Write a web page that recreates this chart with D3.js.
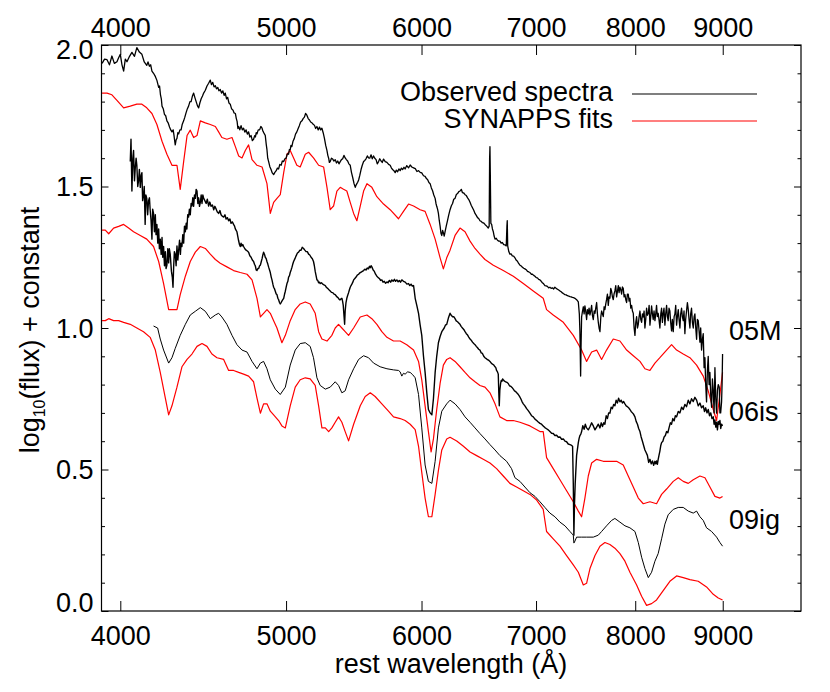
<!DOCTYPE html>
<html><head><meta charset="utf-8">
<script src="https://cdn.jsdelivr.net/npm/d3@7"></script>
<style>
body{margin:0;background:#fff}
text{font-family:"Liberation Sans",Arial,Helvetica,sans-serif;fill:#000}
</style>
</head><body>
<svg id="chart" width="830" height="692"></svg>
<script>
// ---------------- data (rest wavelength in Å, log10 flux + constant) ----------------
const xTickValues = [4000, 5000, 6000, 7000, 8000, 9000];
const yTickValues = [0.0, 0.5, 1.0, 1.5, 2.0];
const yMinorValues = [0.1,0.2,0.3,0.4,0.6,0.7,0.8,0.9,1.1,1.2,1.3,1.4,1.6,1.7,1.8,1.9];
const legendLabels = ["Observed spectra", "SYNAPPS fits"];
const snNames = ["05M", "06is", "09ig"];

const obs05M = [[3903,1.935],[3916,1.95],[3929,1.948],[3942,1.93],[3955,1.961],[3968,1.935],[3982,1.941],[3991,1.955],[4000,1.967],[4009,1.93],[4018,1.908],[4027,1.95],[4036,1.941],[4050,1.96],[4063,1.974],[4077,1.96],[4090,1.991],[4104,1.975],[4118,1.967],[4131,1.94],[4145,1.928],[4152,1.94],[4160,1.925],[4167,1.93],[4174,1.908],[4183,1.90],[4193,1.889],[4202,1.875],[4212,1.850],[4217,1.855],[4222,1.825],[4227,1.81],[4231,1.784],[4238,1.775],[4245,1.755],[4252,1.75],[4259,1.732],[4266,1.725],[4274,1.71],[4281,1.70],[4288,1.693],[4295,1.70],[4300,1.68],[4304,1.66],[4307,1.647],[4312,1.665],[4317,1.67],[4322,1.69],[4327,1.686],[4334,1.70],[4341,1.70],[4348,1.72],[4356,1.732],[4363,1.745],[4370,1.76],[4378,1.775],[4385,1.784],[4393,1.80],[4400,1.80],[4408,1.82],[4415,1.830],[4422,1.815],[4430,1.80],[4438,1.785],[4445,1.778],[4452,1.795],[4460,1.81],[4468,1.82],[4475,1.830],[4485,1.84],[4495,1.855],[4505,1.865],[4515,1.876],[4522,1.86],[4530,1.868],[4538,1.852],[4546,1.856],[4553,1.845],[4561,1.85],[4568,1.838],[4576,1.843],[4584,1.83],[4592,1.838],[4600,1.822],[4607,1.830],[4615,1.81],[4622,1.815],[4630,1.795],[4638,1.791],[4646,1.775],[4655,1.77],[4662,1.76],[4670,1.758],[4676,1.74],[4681,1.73],[4686,1.705],[4691,1.712],[4698,1.70],[4706,1.715],[4714,1.70],[4722,1.706],[4730,1.692],[4738,1.70],[4746,1.685],[4754,1.693],[4762,1.675],[4770,1.68],[4778,1.662],[4786,1.667],[4793,1.68],[4798,1.675],[4803,1.69],[4808,1.686],[4816,1.70],[4825,1.70],[4833,1.712],[4841,1.706],[4847,1.695],[4852,1.69],[4857,1.685],[4862,1.680],[4868,1.65],[4873,1.63],[4878,1.60],[4884,1.588],[4892,1.57],[4900,1.56],[4908,1.548],[4917,1.542],[4925,1.55],[4933,1.555],[4942,1.565],[4950,1.562],[4958,1.578],[4967,1.575],[4975,1.59],[4984,1.588],[4992,1.598],[5000,1.60],[5008,1.615],[5017,1.614],[5022,1.63],[5028,1.63],[5033,1.645],[5039,1.641],[5047,1.66],[5056,1.67],[5064,1.685],[5073,1.693],[5082,1.705],[5090,1.715],[5099,1.728],[5108,1.732],[5116,1.74],[5125,1.745],[5133,1.758],[5142,1.752],[5151,1.74],[5160,1.735],[5168,1.728],[5177,1.725],[5186,1.72],[5195,1.716],[5203,1.705],[5212,1.712],[5221,1.70],[5230,1.71],[5238,1.70],[5247,1.706],[5256,1.69],[5265,1.67],[5274,1.645],[5283,1.627],[5289,1.61],[5295,1.60],[5300,1.585],[5306,1.588],[5315,1.60],[5324,1.597],[5333,1.59],[5342,1.595],[5351,1.583],[5360,1.59],[5369,1.58],[5378,1.588],[5387,1.595],[5396,1.598],[5405,1.61],[5414,1.601],[5423,1.595],[5432,1.59],[5441,1.58],[5451,1.575],[5460,1.55],[5470,1.53],[5479,1.51],[5488,1.497],[5494,1.505],[5500,1.51],[5506,1.515],[5513,1.523],[5522,1.54],[5531,1.56],[5540,1.575],[5550,1.588],[5559,1.592],[5568,1.598],[5578,1.608],[5587,1.601],[5596,1.60],[5606,1.612],[5615,1.598],[5625,1.608],[5634,1.60],[5644,1.595],[5653,1.58],[5663,1.588],[5672,1.598],[5682,1.59],[5691,1.585],[5701,1.597],[5714,1.588],[5727,1.585],[5740,1.578],[5752,1.575],[5762,1.565],[5771,1.56],[5781,1.556],[5791,1.549],[5800,1.558],[5810,1.552],[5820,1.562],[5830,1.556],[5840,1.565],[5850,1.56],[5860,1.568],[5869,1.562],[5882,1.574],[5896,1.566],[5909,1.576],[5922,1.569],[5936,1.566],[5950,1.563],[5963,1.553],[5976,1.556],[5989,1.550],[6002,1.548],[6016,1.538],[6029,1.536],[6040,1.528],[6050,1.524],[6060,1.514],[6070,1.510],[6080,1.495],[6090,1.485],[6100,1.47],[6111,1.458],[6118,1.44],[6124,1.43],[6131,1.42],[6138,1.405],[6145,1.38],[6152,1.36],[6159,1.335],[6166,1.327],[6173,1.345],[6180,1.335],[6186,1.325],[6193,1.340],[6203,1.36],[6214,1.38],[6224,1.40],[6235,1.418],[6246,1.432],[6256,1.44],[6266,1.455],[6277,1.458],[6288,1.472],[6298,1.475],[6309,1.482],[6319,1.484],[6330,1.49],[6340,1.478],[6351,1.477],[6362,1.471],[6373,1.468],[6384,1.46],[6394,1.454],[6405,1.444],[6415,1.434],[6426,1.425],[6437,1.416],[6448,1.405],[6459,1.398],[6470,1.39],[6480,1.387],[6491,1.379],[6502,1.377],[6513,1.372],[6524,1.371],[6535,1.366],[6550,1.36],[6564,1.353],[6572,1.36],[6576,1.60],[6579,1.641],[6582,1.55],[6587,1.37],[6594,1.366],[6601,1.35],[6609,1.34],[6616,1.325],[6624,1.314],[6635,1.317],[6646,1.31],[6657,1.307],[6668,1.307],[6679,1.30],[6690,1.302],[6702,1.295],[6713,1.294],[6725,1.29],[6731,1.36],[6734,1.379],[6738,1.29],[6748,1.27],[6758,1.261],[6769,1.262],[6780,1.255],[6792,1.254],[6804,1.248],[6815,1.24],[6827,1.236],[6838,1.228],[6850,1.222],[6862,1.219],[6873,1.215],[6885,1.211],[6896,1.209],[6908,1.206],[6920,1.20],[6932,1.198],[6943,1.196],[6955,1.19],[6966,1.19],[6978,1.186],[6990,1.183],[7002,1.178],[7013,1.177],[7025,1.172],[7037,1.170],[7049,1.165],[7060,1.16],[7072,1.156],[7084,1.150],[7096,1.149],[7108,1.147],[7120,1.142],[7132,1.144],[7144,1.14],[7156,1.142],[7168,1.138],[7180,1.144],[7192,1.14],[7205,1.137],[7217,1.134],[7229,1.131],[7241,1.128],[7253,1.124],[7265,1.121],[7278,1.118],[7290,1.117],[7302,1.114],[7314,1.113],[7327,1.111],[7339,1.11],[7351,1.108],[7363,1.107],[7376,1.105],[7393,1.10],[7410,1.092],[7420,1.05],[7426,0.987],[7433,0.830],[7438,0.95],[7443,1.039],[7452,1.06],[7460,1.075],[7468,1.05],[7476,1.078],[7484,1.06],[7493,1.03],[7501,1.065],[7510,1.05],[7518,1.07],[7527,1.046],[7535,1.06],[7544,1.08],[7552,1.045],[7561,1.03],[7570,1.06],[7578,1.052],[7586,1.07],[7595,1.09],[7603,1.05],[7612,1.02],[7620,1.00],[7629,0.987],[7638,1.04],[7646,1.06],[7655,1.05],[7663,1.04],[7672,1.075],[7680,1.065],[7689,1.085],[7697,1.10],[7706,1.12],[7715,1.08],[7723,1.11],[7732,1.105],[7741,1.14],[7749,1.13],[7758,1.11],[7767,1.10],[7775,1.12],[7784,1.131],[7793,1.15],[7802,1.11],[7811,1.13],[7820,1.15],[7828,1.125],[7837,1.144],[7846,1.135],[7855,1.12],[7863,1.145],[7872,1.14],[7881,1.11],[7890,1.118],[7899,1.10],[7908,1.09],[7916,1.12],[7925,1.12],[7934,1.095],[7943,1.105],[7952,1.07],[7961,1.08],[7970,1.06],[7979,1.052],[7988,1.00],[7997,0.974],[8006,1.02],[8015,1.04],[8024,1.00],[8033,1.013],[8042,1.04],[8051,1.06],[8060,1.03],[8069,1.02],[8078,1.05],[8087,1.039],[8096,1.06],[8105,1.00],[8114,1.03],[8123,1.07],[8132,1.045],[8142,1.052],[8151,1.08],[8160,1.01],[8169,1.04],[8178,1.078],[8187,1.05],[8196,1.03],[8205,1.06],[8215,1.026],[8224,1.05],[8233,1.08],[8242,1.04],[8251,1.052],[8260,1.03],[8270,1.00],[8280,1.05],[8289,1.07],[8298,1.02],[8307,1.052],[8316,1.07],[8326,1.01],[8335,1.05],[8345,1.08],[8354,1.04],[8363,1.026],[8372,1.07],[8382,1.06],[8391,1.02],[8401,0.99],[8410,1.03],[8420,0.987],[8430,1.04],[8439,1.05],[8448,1.08],[8458,1.01],[8467,1.04],[8477,1.065],[8486,1.03],[8496,1.00],[8505,1.05],[8515,1.07],[8524,1.04],[8534,1.026],[8543,1.06],[8553,0.98],[8562,1.03],[8572,1.06],[8582,1.09],[8592,1.065],[8601,1.03],[8611,1.00],[8620,1.05],[8630,1.07],[8640,1.02],[8650,1.000],[8660,1.04],[8669,1.05],[8679,1.00],[8689,0.96],[8698,1.03],[8708,1.026],[8718,0.99],[8728,0.95],[8737,1.00],[8747,0.922],[8757,0.96],[8767,0.98],[8777,0.86],[8787,0.895],[8796,0.80],[8806,0.739],[8816,0.85],[8826,0.90],[8836,0.80],[8846,0.843],[8856,0.76],[8866,0.72],[8876,0.82],[8886,0.778],[8896,0.70],[8906,0.86],[8916,0.75],[8926,0.699],[8936,0.78],[8946,0.80],[8958,0.791],[8966,0.70],[8975,0.70],[8986,0.739],[8992,0.80],[8998,0.908]];

const fit05M = [[3903,1.830],[3929,1.830],[3955,1.824],[3982,1.804],[4018,1.778],[4054,1.784],[4090,1.791],[4118,1.791],[4145,1.778],[4174,1.758],[4202,1.719],[4231,1.660],[4259,1.614],[4288,1.575],[4317,1.575],[4336,1.490],[4356,1.588],[4376,1.680],[4395,1.699],[4415,1.673],[4435,1.680],[4455,1.732],[4485,1.725],[4515,1.719],[4546,1.712],[4566,1.693],[4586,1.673],[4617,1.667],[4649,1.673],[4670,1.641],[4691,1.608],[4712,1.601],[4733,1.627],[4754,1.647],[4776,1.595],[4808,1.575],[4841,1.569],[4873,1.510],[4895,1.405],[4917,1.444],[4939,1.458],[4961,1.471],[4984,1.549],[5006,1.614],[5028,1.627],[5051,1.601],[5073,1.575],[5096,1.569],[5131,1.614],[5154,1.621],[5188,1.601],[5224,1.575],[5259,1.569],[5283,1.497],[5306,1.418],[5330,1.431],[5354,1.484],[5378,1.497],[5402,1.490],[5426,1.484],[5451,1.444],[5476,1.405],[5500,1.379],[5525,1.431],[5550,1.484],[5575,1.510],[5612,1.497],[5650,1.464],[5701,1.438],[5752,1.418],[5817,1.386],[5856,1.412],[5896,1.438],[5936,1.431],[5989,1.418],[6029,1.412],[6070,1.366],[6111,1.314],[6152,1.248],[6179,1.209],[6207,1.248],[6235,1.275],[6277,1.327],[6319,1.353],[6362,1.340],[6405,1.307],[6448,1.281],[6491,1.261],[6535,1.242],[6609,1.222],[6698,1.203],[6789,1.183],[6881,1.157],[6974,1.131],[7068,1.105],[7100,1.065],[7164,1.046],[7262,1.020],[7360,0.974],[7443,0.922],[7493,0.882],[7544,0.915],[7595,0.922],[7646,0.889],[7697,0.922],[7767,0.961],[7837,0.954],[7908,0.922],[7979,0.902],[8051,0.882],[8105,0.856],[8160,0.850],[8215,0.876],[8270,0.895],[8345,0.922],[8401,0.941],[8458,0.922],[8534,0.908],[8611,0.895],[8689,0.869],[8767,0.830],[8826,0.778],[8886,0.712],[8926,0.673],[8966,0.765],[8998,0.843]];

const obs06is = [[4054,1.588],[4058,1.667],[4063,1.484],[4068,1.60],[4072,1.627],[4077,1.52],[4081,1.562],[4086,1.60],[4090,1.575],[4095,1.50],[4100,1.523],[4104,1.56],[4109,1.497],[4114,1.54],[4118,1.549],[4122,1.45],[4127,1.471],[4131,1.50],[4136,1.366],[4140,1.47],[4145,1.458],[4150,1.40],[4155,1.45],[4160,1.46],[4164,1.418],[4169,1.38],[4174,1.314],[4178,1.42],[4183,1.405],[4188,1.34],[4193,1.40],[4197,1.33],[4202,1.366],[4207,1.30],[4212,1.35],[4216,1.28],[4221,1.314],[4226,1.26],[4231,1.32],[4235,1.25],[4240,1.288],[4245,1.22],[4250,1.27],[4254,1.21],[4259,1.222],[4264,1.28],[4269,1.23],[4273,1.28],[4278,1.261],[4285,1.20],[4290,1.18],[4294,1.144],[4298,1.22],[4302,1.27],[4307,1.261],[4312,1.22],[4317,1.29],[4322,1.24],[4327,1.275],[4332,1.31],[4337,1.26],[4341,1.30],[4346,1.288],[4351,1.33],[4356,1.30],[4361,1.36],[4366,1.340],[4371,1.37],[4375,1.35],[4380,1.40],[4385,1.392],[4390,1.42],[4395,1.40],[4400,1.44],[4405,1.431],[4410,1.46],[4415,1.43],[4420,1.47],[4425,1.458],[4430,1.49],[4435,1.484],[4440,1.44],[4445,1.46],[4450,1.43],[4455,1.444],[4460,1.47],[4465,1.44],[4470,1.47],[4475,1.458],[4482,1.45],[4490,1.44],[4497,1.455],[4505,1.431],[4512,1.445],[4520,1.43],[4528,1.435],[4536,1.418],[4543,1.43],[4551,1.42],[4558,1.41],[4566,1.405],[4574,1.415],[4581,1.40],[4589,1.395],[4597,1.392],[4605,1.40],[4612,1.385],[4620,1.39],[4628,1.379],[4636,1.385],[4643,1.37],[4651,1.375],[4659,1.366],[4665,1.36],[4670,1.35],[4675,1.345],[4680,1.340],[4685,1.325],[4690,1.31],[4696,1.295],[4701,1.288],[4706,1.30],[4712,1.29],[4717,1.295],[4722,1.288],[4730,1.28],[4738,1.275],[4746,1.272],[4754,1.268],[4762,1.255],[4770,1.25],[4778,1.24],[4786,1.235],[4792,1.225],[4797,1.22],[4803,1.205],[4808,1.203],[4814,1.21],[4819,1.21],[4825,1.22],[4830,1.222],[4836,1.235],[4841,1.245],[4846,1.258],[4851,1.268],[4857,1.26],[4862,1.25],[4868,1.245],[4873,1.235],[4879,1.225],[4884,1.215],[4890,1.205],[4895,1.196],[4901,1.18],[4906,1.17],[4912,1.155],[4917,1.144],[4923,1.138],[4928,1.13],[4934,1.12],[4939,1.118],[4945,1.105],[4950,1.10],[4956,1.09],[4961,1.085],[4967,1.09],[4972,1.095],[4978,1.10],[4984,1.105],[4990,1.12],[4995,1.13],[5001,1.145],[5006,1.157],[5012,1.165],[5017,1.18],[5023,1.185],[5028,1.196],[5034,1.205],[5040,1.215],[5045,1.225],[5051,1.235],[5060,1.245],[5068,1.255],[5077,1.265],[5085,1.268],[5094,1.275],[5102,1.275],[5110,1.285],[5119,1.281],[5128,1.275],[5136,1.27],[5145,1.27],[5154,1.261],[5162,1.258],[5171,1.25],[5180,1.245],[5188,1.235],[5194,1.22],[5200,1.20],[5206,1.185],[5212,1.170],[5218,1.168],[5224,1.16],[5230,1.162],[5235,1.157],[5244,1.16],[5253,1.155],[5262,1.152],[5271,1.150],[5280,1.143],[5288,1.14],[5297,1.135],[5306,1.131],[5315,1.126],[5324,1.125],[5333,1.12],[5342,1.118],[5348,1.114],[5354,1.11],[5360,1.108],[5366,1.105],[5372,1.10],[5378,1.10],[5384,1.103],[5390,1.105],[5395,1.095],[5400,1.08],[5406,1.04],[5410,1.013],[5414,1.06],[5420,1.09],[5426,1.105],[5432,1.115],[5439,1.125],[5445,1.135],[5451,1.144],[5457,1.15],[5463,1.155],[5470,1.162],[5476,1.170],[5485,1.175],[5494,1.18],[5503,1.187],[5513,1.190],[5522,1.195],[5531,1.197],[5540,1.20],[5550,1.203],[5559,1.208],[5568,1.205],[5578,1.212],[5587,1.209],[5594,1.218],[5600,1.213],[5606,1.22],[5612,1.216],[5622,1.205],[5631,1.20],[5640,1.19],[5650,1.183],[5660,1.178],[5669,1.175],[5678,1.168],[5688,1.170],[5697,1.162],[5707,1.165],[5717,1.158],[5727,1.163],[5736,1.16],[5746,1.168],[5756,1.162],[5765,1.170],[5775,1.165],[5785,1.172],[5794,1.165],[5804,1.170],[5814,1.163],[5823,1.168],[5833,1.162],[5843,1.170],[5856,1.165],[5870,1.162],[5883,1.155],[5896,1.157],[5906,1.15],[5916,1.155],[5926,1.148],[5936,1.150],[5942,1.13],[5949,1.105],[5962,1.08],[5976,1.052],[5989,1.01],[6002,0.974],[6016,0.90],[6029,0.843],[6043,0.77],[6056,0.712],[6070,0.70],[6084,0.693],[6097,0.75],[6111,0.843],[6124,0.90],[6138,0.948],[6152,0.97],[6166,0.987],[6186,1.00],[6196,1.01],[6207,1.013],[6221,1.035],[6235,1.052],[6245,1.045],[6256,1.04],[6266,1.04],[6277,1.033],[6287,1.025],[6298,1.022],[6308,1.018],[6319,1.013],[6330,1.005],[6340,1.00],[6351,0.995],[6362,0.987],[6373,0.98],[6384,0.975],[6394,0.968],[6405,0.961],[6415,0.957],[6426,0.95],[6437,0.945],[6448,0.941],[6459,0.935],[6470,0.93],[6480,0.925],[6491,0.922],[6502,0.912],[6513,0.91],[6524,0.90],[6535,0.895],[6546,0.892],[6557,0.888],[6568,0.886],[6579,0.882],[6590,0.876],[6601,0.872],[6612,0.87],[6624,0.863],[6631,0.86],[6638,0.85],[6646,0.845],[6653,0.837],[6658,0.77],[6662,0.725],[6667,0.78],[6674,0.804],[6680,0.815],[6686,0.812],[6692,0.82],[6698,0.817],[6709,0.812],[6720,0.81],[6731,0.808],[6743,0.804],[6754,0.796],[6766,0.794],[6777,0.79],[6789,0.784],[6800,0.778],[6812,0.775],[6823,0.77],[6835,0.765],[6846,0.758],[6858,0.75],[6869,0.74],[6881,0.732],[6896,0.725],[6912,0.715],[6927,0.708],[6943,0.699],[6958,0.69],[6974,0.686],[6990,0.678],[7006,0.673],[7021,0.668],[7037,0.663],[7052,0.66],[7068,0.654],[7084,0.648],[7100,0.644],[7116,0.64],[7132,0.634],[7148,0.628],[7164,0.627],[7180,0.62],[7197,0.621],[7213,0.614],[7229,0.615],[7245,0.607],[7262,0.608],[7278,0.60],[7294,0.598],[7310,0.59],[7327,0.588],[7340,0.586],[7353,0.582],[7360,0.45],[7366,0.268],[7372,0.38],[7379,0.451],[7393,0.55],[7410,0.595],[7418,0.61],[7426,0.62],[7435,0.625],[7443,0.634],[7455,0.655],[7468,0.642],[7480,0.66],[7493,0.647],[7510,0.64],[7527,0.651],[7544,0.665],[7561,0.654],[7578,0.64],[7595,0.650],[7612,0.66],[7629,0.647],[7642,0.665],[7655,0.652],[7668,0.665],[7680,0.660],[7693,0.69],[7706,0.68],[7719,0.70],[7732,0.699],[7745,0.72],[7758,0.715],[7771,0.73],[7784,0.725],[7797,0.745],[7810,0.735],[7823,0.752],[7837,0.739],[7850,0.745],[7863,0.735],[7876,0.74],[7890,0.732],[7903,0.725],[7916,0.722],[7930,0.718],[7943,0.712],[7956,0.705],[7970,0.70],[7983,0.695],[7997,0.686],[8010,0.67],[8024,0.66],[8037,0.645],[8051,0.634],[8064,0.615],[8078,0.60],[8091,0.585],[8105,0.569],[8118,0.56],[8132,0.55],[8146,0.525],[8160,0.536],[8174,0.52],[8188,0.53],[8201,0.515],[8215,0.529],[8224,0.52],[8233,0.53],[8242,0.518],[8251,0.536],[8260,0.55],[8270,0.565],[8280,0.585],[8289,0.595],[8303,0.60],[8317,0.615],[8331,0.62],[8345,0.634],[8359,0.63],[8373,0.648],[8387,0.665],[8401,0.660],[8415,0.68],[8430,0.672],[8444,0.69],[8458,0.686],[8477,0.705],[8496,0.70],[8515,0.72],[8534,0.712],[8553,0.73],[8572,0.722],[8592,0.745],[8611,0.732],[8630,0.75],[8650,0.74],[8669,0.755],[8689,0.745],[8708,0.725],[8728,0.735],[8747,0.718],[8767,0.725],[8782,0.705],[8796,0.718],[8811,0.70],[8826,0.712],[8841,0.69],[8856,0.70],[8871,0.68],[8886,0.686],[8896,0.66],[8906,0.675],[8916,0.65],[8926,0.667],[8936,0.64],[8946,0.67],[8956,0.66],[8966,0.673],[8976,0.645],[8986,0.66],[8998,0.654]];

const fit06is = [[3903,1.346],[3920,1.346],[3938,1.333],[3964,1.353],[3991,1.359],[4018,1.366],[4045,1.353],[4072,1.340],[4109,1.327],[4145,1.314],[4183,1.288],[4212,1.235],[4240,1.157],[4269,1.065],[4297,1.065],[4317,1.065],[4336,1.118],[4366,1.183],[4395,1.235],[4425,1.268],[4455,1.288],[4485,1.281],[4515,1.261],[4546,1.242],[4576,1.229],[4617,1.216],[4659,1.203],[4701,1.196],[4744,1.190],[4776,1.170],[4808,1.105],[4830,1.039],[4851,1.052],[4873,1.065],[4895,1.052],[4917,1.026],[4939,1.000],[4972,0.948],[4995,0.974],[5028,1.026],[5062,1.065],[5096,1.085],[5131,1.092],[5165,1.085],[5200,1.052],[5224,0.987],[5247,0.961],[5283,0.954],[5318,0.974],[5342,1.000],[5366,1.013],[5390,1.000],[5414,0.987],[5439,0.974],[5476,1.000],[5525,1.039],[5575,1.046],[5612,1.033],[5650,1.013],[5688,0.987],[5727,0.967],[5778,0.954],[5830,0.954],[5882,0.941],[5936,0.922],[5976,0.882],[6002,0.817],[6029,0.725],[6056,0.634],[6078,0.562],[6097,0.608],[6124,0.712],[6152,0.804],[6179,0.869],[6207,0.889],[6235,0.895],[6277,0.882],[6319,0.863],[6362,0.843],[6405,0.824],[6448,0.810],[6491,0.797],[6535,0.791],[6579,0.771],[6624,0.732],[6668,0.686],[6728,0.673],[6789,0.673],[6850,0.667],[6943,0.654],[7037,0.634],[7068,0.634],[7100,0.542],[7164,0.503],[7229,0.464],[7294,0.425],[7360,0.386],[7410,0.353],[7443,0.333],[7476,0.399],[7510,0.477],[7544,0.523],[7595,0.536],[7663,0.529],[7732,0.529],[7802,0.529],[7872,0.516],[7925,0.477],[7979,0.438],[8033,0.399],[8087,0.379],[8160,0.386],[8233,0.379],[8289,0.412],[8345,0.431],[8420,0.458],[8477,0.471],[8534,0.458],[8592,0.451],[8650,0.464],[8728,0.477],[8787,0.471],[8846,0.438],[8906,0.405],[8966,0.399],[8998,0.405]];

const obs09ig = [[4183,1.007],[4206,1.000],[4221,0.961],[4240,0.922],[4269,0.876],[4288,0.895],[4307,0.928],[4336,0.974],[4366,1.013],[4395,1.046],[4425,1.059],[4455,1.072],[4485,1.059],[4515,1.033],[4546,1.046],[4566,1.052],[4586,1.039],[4617,1.013],[4649,0.974],[4680,0.941],[4712,0.922],[4744,0.915],[4776,0.882],[4808,0.856],[4830,0.876],[4851,0.882],[4873,0.856],[4895,0.817],[4928,0.784],[4961,0.765],[4995,0.791],[5028,0.869],[5062,0.922],[5096,0.945],[5131,0.948],[5165,0.935],[5188,0.895],[5212,0.824],[5235,0.797],[5271,0.784],[5306,0.791],[5342,0.810],[5366,0.797],[5390,0.771],[5414,0.778],[5439,0.817],[5476,0.856],[5513,0.889],[5550,0.902],[5587,0.895],[5625,0.876],[5675,0.863],[5727,0.856],[5778,0.852],[5817,0.850],[5830,0.845],[5843,0.830],[5856,0.84],[5869,0.837],[5889,0.845],[5909,0.843],[5929,0.835],[5949,0.824],[5976,0.765],[6002,0.647],[6029,0.516],[6056,0.458],[6084,0.451],[6111,0.529],[6138,0.647],[6166,0.706],[6207,0.732],[6235,0.745],[6277,0.732],[6319,0.712],[6362,0.686],[6405,0.667],[6448,0.647],[6491,0.627],[6535,0.608],[6579,0.588],[6624,0.569],[6668,0.549],[6728,0.529],[6773,0.503],[6804,0.471],[6850,0.458],[6896,0.438],[6943,0.418],[6990,0.405],[7037,0.386],[7084,0.366],[7132,0.346],[7180,0.333],[7229,0.314],[7278,0.301],[7327,0.281],[7360,0.268],[7366,0.24],[7370,0.242],[7393,0.261],[7443,0.261],[7493,0.261],[7561,0.261],[7612,0.268],[7646,0.281],[7697,0.301],[7749,0.320],[7784,0.327],[7837,0.314],[7890,0.301],[7943,0.294],[7997,0.281],[8033,0.242],[8069,0.190],[8105,0.150],[8142,0.118],[8178,0.137],[8215,0.176],[8251,0.203],[8289,0.255],[8326,0.307],[8363,0.340],[8420,0.359],[8477,0.366],[8534,0.366],[8592,0.353],[8650,0.346],[8689,0.353],[8728,0.333],[8767,0.320],[8806,0.294],[8866,0.281],[8926,0.261],[8966,0.242],[8998,0.229]];

const fit09ig = [[3903,1.026],[3920,1.026],[3938,1.033],[3964,1.026],[3991,1.026],[4018,1.020],[4054,1.013],[4090,1.000],[4127,0.987],[4164,0.967],[4193,0.922],[4221,0.843],[4250,0.752],[4269,0.693],[4288,0.725],[4317,0.791],[4346,0.863],[4376,0.889],[4405,0.908],[4435,0.935],[4465,0.945],[4495,0.935],[4525,0.908],[4556,0.895],[4597,0.889],[4628,0.850],[4659,0.850],[4691,0.843],[4722,0.837],[4754,0.830],[4786,0.810],[4808,0.752],[4830,0.699],[4851,0.732],[4873,0.732],[4895,0.706],[4917,0.693],[4950,0.673],[4972,0.654],[4995,0.647],[5028,0.725],[5062,0.791],[5096,0.817],[5131,0.824],[5165,0.820],[5200,0.797],[5224,0.725],[5247,0.647],[5271,0.647],[5295,0.634],[5318,0.647],[5342,0.667],[5366,0.686],[5390,0.667],[5414,0.634],[5439,0.601],[5476,0.660],[5525,0.725],[5562,0.758],[5600,0.771],[5637,0.758],[5688,0.732],[5739,0.706],[5778,0.686],[5830,0.680],[5869,0.673],[5909,0.660],[5949,0.641],[5976,0.582],[6002,0.490],[6029,0.399],[6056,0.333],[6084,0.333],[6111,0.412],[6138,0.497],[6166,0.569],[6207,0.608],[6235,0.614],[6291,0.601],[6348,0.582],[6405,0.562],[6462,0.549],[6520,0.536],[6579,0.523],[6638,0.503],[6698,0.477],[6758,0.451],[6819,0.438],[6881,0.425],[6943,0.412],[7006,0.392],[7068,0.359],[7100,0.281],[7164,0.255],[7229,0.229],[7294,0.196],[7360,0.163],[7410,0.137],[7460,0.092],[7493,0.098],[7527,0.150],[7578,0.196],[7629,0.229],[7680,0.242],[7732,0.235],[7784,0.222],[7837,0.203],[7890,0.176],[7943,0.137],[8015,0.092],[8069,0.052],[8123,0.020],[8178,0.026],[8233,0.039],[8307,0.072],[8382,0.105],[8458,0.124],[8534,0.118],[8611,0.111],[8708,0.105],[8806,0.085],[8886,0.059],[8946,0.046],[8998,0.039]];

// ---------------- layout ----------------
const plot = {left: 101.5, right: 801, top: 45, bottom: 611};
const FONT = 27;

const svg = d3.select("#chart");
const x = d3.scaleLog().domain([3900, 10000]).range([plot.left, plot.right]);
const y = d3.scaleLinear().domain([0, 2]).range([plot.bottom, plot.top]);

const line = d3.line().x(d => x(d[0])).y(d => y(d[1]));

// spectra
const series = [
  {data: fit05M, color: "#ff0000", w: 1.2},
  {data: fit06is, color: "#ff0000", w: 1.2},
  {data: fit09ig, color: "#ff0000", w: 1.2},
  {data: obs05M, color: "#000000", w: 1.3},
  {data: obs06is, color: "#000000", w: 1.4},
  {data: obs09ig, color: "#000000", w: 1.0}
];
svg.append("g").selectAll("path").data(series).join("path")
  .attr("d", d => line(d.data))
  .attr("fill", "none")
  .attr("stroke", d => d.color)
  .attr("stroke-width", d => d.w)
  .attr("stroke-linejoin", "round");

// axes
function styleAxis(g) {
  g.select(".domain").remove();
  g.selectAll(".tick line").attr("stroke", "#000").attr("stroke-width", 1);
  g.selectAll("text").attr("font-size", FONT).attr("fill", "#000")
    .attr("font-family", '"Liberation Sans",Arial,Helvetica,sans-serif');
}
svg.append("g").attr("transform", `translate(0,${plot.bottom})`)
  .call(d3.axisBottom(x).tickValues(xTickValues).tickFormat(d3.format("d")).tickSize(-10).tickPadding(15))
  .call(styleAxis);
svg.append("g").attr("transform", `translate(0,${plot.top})`)
  .call(d3.axisTop(x).tickValues(xTickValues).tickFormat(d3.format("d")).tickSize(-10).tickPadding(8))
  .call(styleAxis);
const yl = svg.append("g").attr("transform", `translate(${plot.left},0)`)
  .call(d3.axisLeft(y).tickValues(yTickValues).tickFormat(d3.format(".1f")).tickSize(-7).tickPadding(8))
  .call(styleAxis);
yl.selectAll(".tick text").attr("dy", null).attr("dominant-baseline", "central")
  .attr("y", d => d === 2 ? 4 : (d === 0 ? -9 : 0));
svg.append("g").attr("transform", `translate(${plot.left},0)`)
  .call(d3.axisLeft(y).tickValues(yMinorValues).tickFormat("").tickSize(-3.5))
  .call(styleAxis);
svg.append("g").attr("transform", `translate(${plot.right},0)`)
  .call(d3.axisRight(y).tickValues(yTickValues).tickFormat("").tickSize(-7))
  .call(styleAxis);
svg.append("g").attr("transform", `translate(${plot.right},0)`)
  .call(d3.axisRight(y).tickValues(yMinorValues).tickFormat("").tickSize(-3.5))
  .call(styleAxis);

// frame
svg.append("rect").attr("x", plot.left).attr("y", plot.top)
  .attr("width", plot.right - plot.left).attr("height", plot.bottom - plot.top)
  .attr("fill", "none").attr("stroke", "#000").attr("stroke-width", 1.2);

// axis titles
svg.append("text").attr("x", 451).attr("y", 673).attr("text-anchor", "middle")
  .attr("font-size", FONT).text("rest wavelength (Å)");
const yt = svg.append("text").attr("transform", "translate(39,330) rotate(-90)")
  .attr("text-anchor", "middle").attr("font-size", FONT);
yt.append("tspan").text("log");
yt.append("tspan").attr("font-size", 16).attr("dy", 6).text("10");
yt.append("tspan").attr("dy", -6).text("(flux) + constant");

// legend
const legendColors = ["#000000", "#ff0000"];
const legendY = [94, 121];
const lg = svg.append("g");
legendLabels.forEach((lab, i) => {
  lg.append("text").attr("x", 613).attr("y", legendY[i] + 7).attr("text-anchor", "end")
    .attr("font-size", FONT).text(lab);
  lg.append("line").attr("x1", 632).attr("x2", 757).attr("y1", legendY[i]).attr("y2", legendY[i])
    .attr("stroke", legendColors[i]).attr("stroke-width", 1.2);
});

// supernova labels
const snLabelY = [340, 421, 529];
snNames.forEach((n, i) => {
  svg.append("text").attr("x", 729).attr("y", snLabelY[i]).attr("font-size", FONT).text(n);
});
</script>
</body></html>
